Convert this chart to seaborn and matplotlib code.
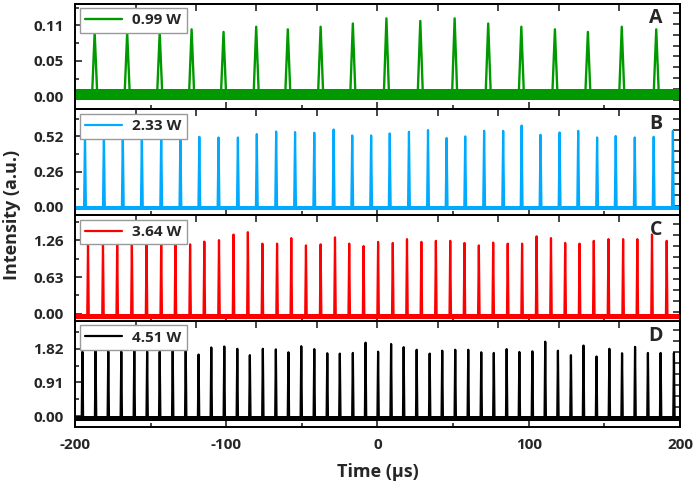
import numpy as np
import pandas as pd
import seaborn as sns
import matplotlib
matplotlib.use("Agg")
import matplotlib.pyplot as plt
from matplotlib.ticker import AutoMinorLocator, MultipleLocator

# pulse peak times (µs) and peak heights (a.u.)
t_a = [-187.0, -165.5, -144.0, -122.9, -101.8, -80.2, -59.3, -37.6, -16.3,
       5.9, 28.3, 51.0, 73.2, 95.1, 117.3, 139.1, 161.5, 184.3]
h_a = [0.099, 0.099, 0.099, 0.104, 0.100, 0.108, 0.104, 0.108, 0.113,
       0.121, 0.117, 0.121, 0.113, 0.108, 0.104, 0.100, 0.108, 0.104]

t_b = [-193.4, -180.9, -168.4, -155.8, -143.0, -130.3, -117.8, -105.1, -92.3, -79.8,
       -67.0, -54.5, -41.8, -29.0, -16.7, -4.2, 8.1, 20.8, 33.4, 45.7,
       58.0, 70.5, 83.1, 95.3, 107.8, 120.4, 132.7, 145.2, 157.5, 170.1,
       182.6, 195.3]
h_b = [0.54, 0.55, 0.55, 0.54, 0.55, 0.54, 0.517, 0.512, 0.512, 0.537,
       0.556, 0.552, 0.547, 0.571, 0.527, 0.527, 0.542, 0.554, 0.567, 0.508,
       0.520, 0.561, 0.561, 0.600, 0.532, 0.549, 0.561, 0.512, 0.523, 0.512,
       0.517, 0.561]

t_c = [-191.4, -181.5, -172.1, -162.4, -152.7, -143.0, -133.6, -123.9, -114.5, -104.8,
       -95.2, -85.7, -76.1, -66.4, -57.0, -47.3, -37.6, -28.1, -18.7, -9.2,
       0.4, 10.1, 19.5, 29.0, 38.6, 48.1, 57.5, 67.0, 76.5, 86.1,
       95.6, 105.2, 114.7, 124.1, 133.6, 143.0, 152.7, 162.4, 171.8, 181.5,
       191.2]
h_c = [1.22, 1.21, 1.22, 1.22, 1.23, 1.22, 1.22, 1.190, 1.237, 1.262,
       1.357, 1.398, 1.202, 1.202, 1.297, 1.172, 1.190, 1.309, 1.202, 1.160,
       1.232, 1.214, 1.279, 1.232, 1.250, 1.250, 1.214, 1.172, 1.220, 1.202,
       1.202, 1.327, 1.297, 1.214, 1.202, 1.250, 1.279, 1.279, 1.279, 1.357,
       1.250]

t_d = [-195.1, -186.4, -178.0, -169.4, -160.8, -152.3, -144.0, -135.4, -126.8, -118.3,
       -109.9, -101.3, -92.7, -84.4, -75.8, -67.2, -58.9, -50.4, -41.8, -33.2,
       -24.9, -16.3, -7.9, 0.4, 9.0, 17.3, 25.9, 34.5, 42.8, 51.4,
       60.0, 68.6, 76.9, 85.4, 93.8, 102.4, 110.9, 119.3, 127.9, 136.2,
       144.8, 153.3, 161.7, 170.3, 178.8, 187.2, 196.0]
h_d = [1.74, 1.76, 1.75, 1.74, 1.76, 1.75, 1.74, 1.76, 1.882, 1.665,
       1.856, 1.882, 1.820, 1.648, 1.820, 1.804, 1.726, 1.890, 1.812, 1.700,
       1.690, 1.708, 1.986, 1.742, 1.950, 1.864, 1.794, 1.690, 1.768, 1.794,
       1.794, 1.726, 1.708, 1.812, 1.734, 1.752, 2.012, 1.768, 1.648, 1.908,
       1.612, 1.820, 1.700, 1.872, 1.708, 1.708, 1.708]

# noisy baseline band (low, high) of each trace
band_lo = [-0.006, -0.02, -0.08, -0.13]
band_hi = [0.012, 0.008, 0.0, 0.0]

powers = ["0.99 W", "2.33 W", "3.64 W", "4.51 W"]
letters = ["A", "B", "C", "D"]
colors = ["#009a00", "#00aaff", "#ff0000", "#000000"]
ytick_vals = [[0, 0.055, 0.11], [0, 0.26, 0.52], [0, 0.63, 1.26], [0, 0.91, 1.82]]
ytick_labels = [["0.00", "0.05", "0.11"], ["0.00", "0.26", "0.52"],
                ["0.00", "0.63", "1.26"], ["0.00", "0.91", "1.82"]]
ylims = [(-0.02, 0.144), (-0.061, 0.72), (-0.12, 1.69), (-0.286, 2.574)]
pulse_hw = [1.7, 0.6, 0.5, 0.45]

sns.set_theme(style="ticks")
plt.rcParams["font.family"] = ["Open Sans", "DejaVu Sans"]
plt.rcParams["font.weight"] = "bold"
plt.rcParams["axes.unicode_minus"] = False


def trace(times, heights, base, hw):
    x, y = [-200.0], [base]
    for t, h in zip(times, heights):
        x += [t - hw, t, t + hw]
        y += [base, h, base]
    x.append(200.0)
    y.append(base)
    return pd.DataFrame({"Time": x, "Intensity": y})


fig = plt.figure(figsize=(6.99, 4.82), dpi=100)
axes = fig.subplots(4, 1, sharex=True, gridspec_kw=dict(hspace=0))
fig.subplots_adjust(left=0.1073, right=0.9728, top=0.9927, bottom=0.1147)

data = [(t_a, h_a), (t_b, h_b), (t_c, h_c), (t_d, h_d)]
for i, ax in enumerate(axes):
    times, heights = data[i]
    base = (band_lo[i] + band_hi[i]) / 2
    df = trace(times, heights, base, pulse_hw[i])
    ax.fill_between([-200, 200], band_lo[i], band_hi[i], color=colors[i], lw=0)
    sns.lineplot(data=df, x="Time", y="Intensity", ax=ax, color=colors[i],
                 lw=1.7 if i == 0 else 1.6, sort=False, estimator=None,
                 label=powers[i])
    ax.set_xlim(-200, 200)
    ax.set_ylim(*ylims[i])
    ax.set_yticks(ytick_vals[i], labels=ytick_labels[i])
    ax.yaxis.set_minor_locator(AutoMinorLocator(2))
    ax.xaxis.set_major_locator(MultipleLocator(100))
    ax.xaxis.set_minor_locator(MultipleLocator(50))
    ax.tick_params(which="both", direction="in", width=1.2, labelsize=11, pad=8)
    ax.tick_params(which="major", length=5)
    ax.tick_params(which="minor", length=3)
    for s in ax.spines.values():
        s.set_linewidth(1.4)
        s.set_color("black")
    ax.set_ylabel("")
    ax.set_xlabel("")

    top = ax.secondary_xaxis("top")
    top.set_xticks(np.arange(-160, 161, 40))
    top.set_xticklabels([])
    top.tick_params(direction="in", length=5, width=1.2)

    y0, y1 = ylims[i]
    right = ax.secondary_yaxis(
        "right",
        functions=(lambda v, a=y0, b=y1: (v - a) / (b - a),
                   lambda f, a=y0, b=y1: a + f * (b - a)))
    right.set_yticks(0.088 + 0.103 * np.arange(9))
    right.set_yticklabels([])
    right.tick_params(direction="in", length=5, width=1.2)

    ax.text(0.96, 0.86, letters[i], transform=ax.transAxes, ha="center",
            va="center", fontsize=14, fontweight="bold")
    leg = ax.legend(loc="upper left", fontsize=11, handlelength=2.4,
                    borderaxespad=0.3, framealpha=1, fancybox=False,
                    borderpad=0.35, handletextpad=0.7)
    leg.get_frame().set_edgecolor("#999999")
    leg.get_frame().set_linewidth(1.0)
    for txt in leg.get_texts():
        txt.set_fontweight("bold")

axes[-1].set_xlabel("Time (µs)", fontsize=13, fontweight="bold", labelpad=8)
fig.text(0.017, (0.1147 + 0.9927) / 2, "Intensity (a.u.)", rotation=90,
         ha="center", va="center", fontsize=13, fontweight="bold")

fig.savefig("out.png", dpi=100)
